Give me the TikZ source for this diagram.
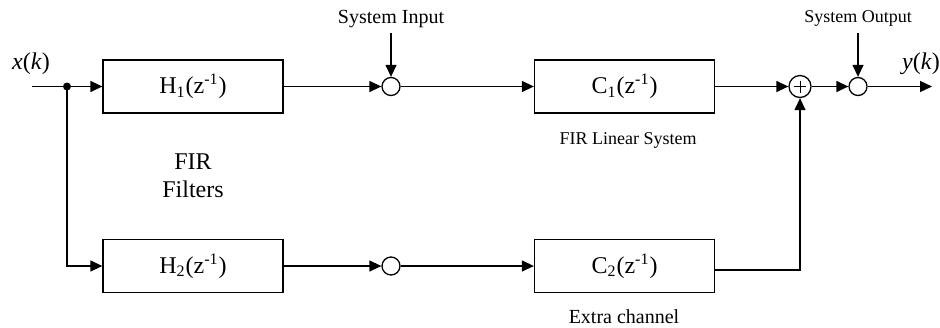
\documentclass[tikz,border=0pt]{standalone}
\usepackage{fontspec}
\setmainfont{Liberation Serif}
\usetikzlibrary{arrows.meta}

\tikzset{
  block/.style={draw, line width=0.65pt, minimum width=90pt, minimum height=26.5pt,
    inner sep=0pt, font=\fontsize{12}{14}\selectfont},
  junc/.style={draw, circle, line width=0.65pt, minimum size=9pt, inner sep=0pt},
  summ/.style={draw, circle, line width=0.65pt, minimum size=11pt, inner sep=0pt,
    path picture={
      \draw[line width=0.5pt] ([yshift=-2.5pt]path picture bounding box.north) -- ([yshift=2.5pt]path picture bounding box.south);
      \draw[line width=0.5pt] ([xshift=2.5pt]path picture bounding box.west) -- ([xshift=-2.5pt]path picture bounding box.east);
    }},
  sig/.style={line width=0.65pt, -{Triangle[length=6pt,width=5.5pt]}}
}

\begin{document}
\begin{tikzpicture}[x=0.5pt,y=-0.5pt]
  \useasboundingbox (0,0) rectangle (940,327);

  \node[block] (h1) at (193,86.5) {H\textsubscript{1}(z\textsuperscript{-1})};
  \node[block] (h2) at (193,266) {H\textsubscript{2}(z\textsuperscript{-1})};
  \node[block] (c1) at (624.5,86.5) {C\textsubscript{1}(z\textsuperscript{-1})};
  \node[block] (c2) at (624.5,266) {C\textsubscript{2}(z\textsuperscript{-1})};

  \node[junc] (n1) at (391,86.5) {};
  \node[junc] (n2) at (391,266) {};
  \node[summ] (s) at (800,86.5) {};
  \node[junc] (n3) at (858,86.5) {};

  \coordinate (in) at (32,86.5);
  \coordinate (split) at (67,86.5);
  \coordinate (out) at (932,86.5);
  \coordinate (si) at (391,33);
  \coordinate (so) at (858,33);

  % labels
  \node (xk) at (31,64) {\fontsize{12}{14}\selectfont\textit{x}(\textit{k})};
  \node (yk) at (921,64) {\fontsize{12}{14}\selectfont\textit{y}(\textit{k})};
  \node (sysin) at (391,19) {\fontsize{10}{12}\selectfont System Input};
  \node (sysout) at (858,18) {\fontsize{9}{11}\selectfont System Output};
  \node[align=center, font=\fontsize{12}{14}\selectfont] (fir) at (193,176) {FIR\\Filters};
  \node (lin) at (628,140) {\fontsize{9}{11}\selectfont FIR Linear System};
  \node (extra) at (624,317) {\fontsize{10}{12}\selectfont Extra channel};

  % signal paths
  \draw[line width=0.65pt] (in) -- (split);
  \fill (split) circle (2pt);
  \draw[sig] (split) -- (h1);
  \draw[sig] (split) |- (h2);
  \draw[sig] (h1) -- (n1);
  \draw[sig] (h2) -- (n2);
  \draw[sig] (n1) -- (c1);
  \draw[sig] (n2) -- (c2);
  \draw[sig] (c1) -- (s);
  \draw[sig] ([yshift=-2pt]c2.east) -| (s);
  \draw[sig] (s) -- (n3);
  \draw[sig] (n3) -- (out);
  \draw[sig] (si) -- (n1);
  \draw[sig] (so) -- (n3);
\end{tikzpicture}
\end{document}
